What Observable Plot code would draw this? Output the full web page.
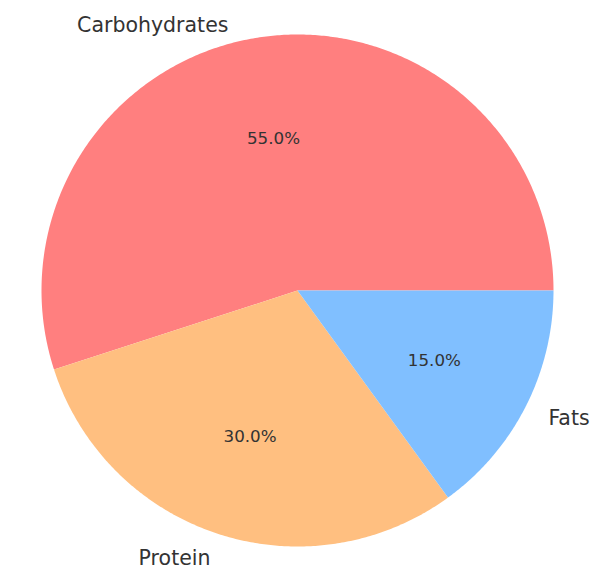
<!DOCTYPE html>
<html>
<head>
<meta charset="utf-8">
<script src="https://cdn.jsdelivr.net/npm/d3@7"></script>
<script src="https://cdn.jsdelivr.net/npm/@observablehq/plot@0.6"></script>
<style>
  html, body { margin: 0; padding: 0; background: #fff; }
  svg { display: block; }
</style>
</head>
<body>
<div id="chart"></div>
<script>
const categories = ["Carbohydrates", "Protein", "Fats"];
const values = [55, 30, 15];
const colors = ["#ff7f7f", "#ffbf80", "#80bfff"];

const total = d3.sum(values);
// slice geometry (matplotlib-style: start at 0°, counterclockwise)
let start = 0;
const slices = categories.map((c, i) => {
  const a0 = start, a1 = start + values[i] / total * 360;
  start = a1;
  return {category: c, value: values[i], a0, a1, mid: (a0 + a1) / 2};
});
const rad = d => d * Math.PI / 180;
const polys = [];
for (const s of slices) {
  polys.push({category: s.category, x: 0, y: 0});
  const n = Math.max(2, Math.ceil(s.a1 - s.a0) * 2);
  for (let k = 0; k <= n; k++) {
    const a = rad(s.a0 + (s.a1 - s.a0) * k / n);
    polys.push({category: s.category, x: Math.cos(a), y: Math.sin(a)});
  }
}
const labels = slices.map(s => ({
  category: s.category,
  x: 1.1 * Math.cos(rad(s.mid)),
  y: 1.1 * Math.sin(rad(s.mid)),
  pct: (s.value / total * 100).toFixed(1) + "%",
  px: 0.6 * Math.cos(rad(s.mid)),
  py: 0.6 * Math.sin(rad(s.mid))
}));

const R = 256, cx = 297, cy = 290, W = 600, H = 583;
const chart = Plot.plot({
  width: W, height: H,
  margin: 0,
  x: {domain: [-cx / R, (W - cx) / R], range: [0, W], axis: null},
  y: {domain: [-(H - cy) / R, cy / R], range: [H, 0], axis: null},
  color: {domain: categories, range: colors},
  style: {fontFamily: "DejaVu Sans", color: "#333"},
  marks: [
    Plot.line(polys, {x: "x", y: "y", z: "category", fill: "category", stroke: null, curve: "linear-closed"}),
    Plot.text(labels, {x: "px", y: "py", text: "pct", fontSize: 16.7, fill: "#333"}),
    Plot.text(labels.filter(d => d.x >= 0), {x: "x", y: "y", text: "category", textAnchor: "start", fontSize: 20.5, fill: "#333"}),
    Plot.text(labels.filter(d => d.x < 0 && d.category !== "Carbohydrates"), {x: "x", y: "y", text: "category", textAnchor: "end", fontSize: 20.5, fill: "#333"}),
    Plot.text(labels.filter(d => d.category === "Carbohydrates"), {x: "x", y: "y", text: "category", textAnchor: "end", fontSize: 20.5, fill: "#333", dx: -25, dy: 13})
  ]
});
document.getElementById("chart").appendChild(chart);
</script>
</body>
</html>
